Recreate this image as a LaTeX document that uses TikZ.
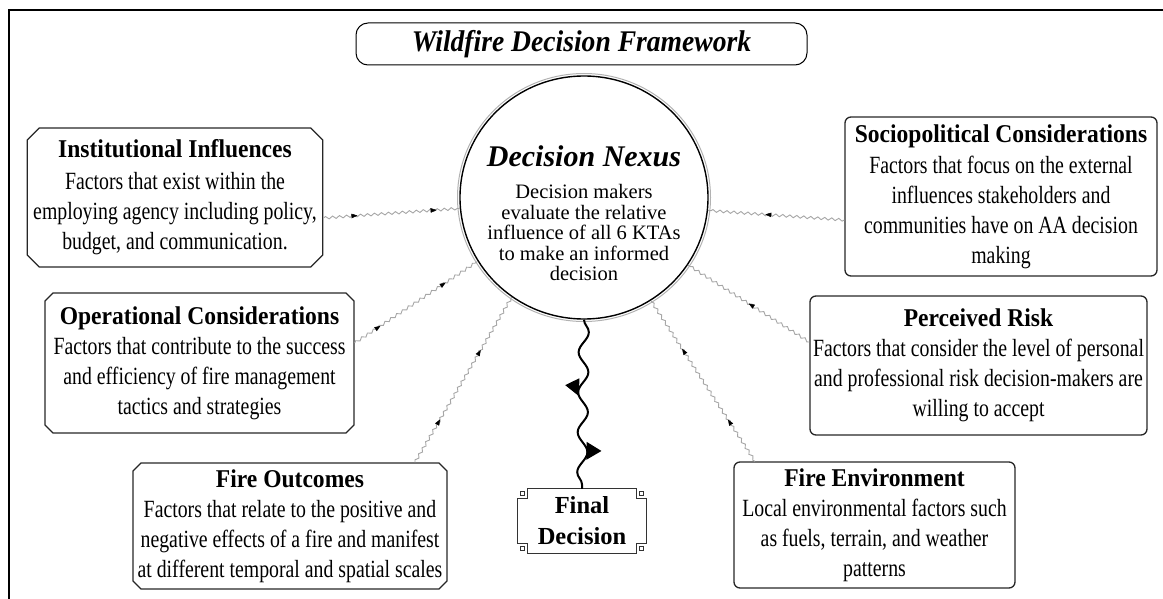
\documentclass[tikz,border=0pt]{standalone}
\usepackage{fontspec}
\setmainfont{Liberation Serif}
% narrow cuts of the serif face used for the box texts and headings
\newfontfamily\bodyfont[FakeStretch=0.8]{Liberation Serif}
\newfontfamily\headfont[FakeStretch=0.92]{Liberation Serif}
\usetikzlibrary{shapes.geometric,shapes.misc,decorations.pathmorphing,decorations.markings,arrows.meta,calc}

% heading line inside a KTA box
\newcommand\ktahead[1]{{\headfont\fontsize{25.6}{30}\selectfont\bfseries #1}}

\begin{document}
\begin{tikzpicture}[x=1pt,y=-1pt,
  kta/.style={draw=black!85, line width=1.3pt, align=center, inner sep=0pt,
    font=\bodyfont\fontsize{24.75}{30}\selectfont},
  ktachamf/.style={kta, chamfered rectangle, chamfered rectangle xsep=#1,
    chamfered rectangle ysep=#1},
  ktaround/.style={kta, rectangle, rounded corners=6pt},
  flow/.style={preaction={draw=gray!70, line width=0.9pt, decorate,
    decoration={snake, segment length=7pt, amplitude=1.3pt}}},
  tip/.style={postaction={decorate, decoration={markings,
    mark=at position #1 with {\arrow{Triangle[length=6pt,width=4.5pt]}}}}},
]
\useasboundingbox (0,0) rectangle (1163,599);
\clip (0,0) rectangle (1163,599);

% outer frame
\draw[line width=2.6pt] (9,620) -- (9,10) -- (1180,10);

% heading
\node[draw, rounded corners=12pt, line width=1pt, minimum width=451pt,
  minimum height=42pt, inner sep=0pt,
  font=\headfont\fontsize{30}{30}\selectfont\bfseries\itshape] (title) at (581.5,44)
  {Wildfire Decision Framework};

% central nexus
\node[ellipse, draw, line width=1.4pt, minimum width=248pt, minimum height=243pt,
  inner sep=0pt] (nexus) at (584,197.5) {};
\draw[gray!60, line width=1pt] (nexus.center) ellipse [x radius=126.5pt, y radius=124pt];
\node[align=center, inner sep=0pt, font=\fontsize{20.5}{20.5}\selectfont]
  (nexusbody) at (584,213)
  {{\fontsize{30}{30}\selectfont\bfseries\itshape Decision Nexus}\\[12pt]
   Decision makers\\ evaluate the relative\\ influence of all 6 KTAs\\
   to make an informed\\ decision};

% key theme areas
\node[ktachamf=6pt, minimum width=294pt, minimum height=139pt] (inst) at (175,197.5)
  {\ktahead{Institutional Influences}\\[2pt] Factors that exist within the\\
   employing agency including policy,\\ budget, and communication.};

\node[ktaround, minimum width=312pt, minimum height=159pt] (socio) at (1001,196.5)
  {\ktahead{Sociopolitical Considerations}\\[1pt] Factors that focus on the external\\
   influences stakeholders and\\ communities have on AA decision\\ making};

\node[ktachamf=4pt, minimum width=309pt, minimum height=140pt] (oper) at (199.5,363)
  {\ktahead{Operational Considerations}\\ Factors that contribute to the success\\
   and efficiency of fire management\\ tactics and strategies};

\node[ktachamf=4pt, minimum width=314pt, minimum height=126pt] (outc) at (290,526)
  {\ktahead{Fire Outcomes}\\ Factors that relate to the positive and\\
   negative effects of a fire and manifest\\ at different temporal and spatial scales};

\node[ktaround, minimum width=337pt, minimum height=139pt] (risk) at (978.5,365.5)
  {\ktahead{Perceived Risk}\\ Factors that consider the level of personal\\
   and professional risk decision-makers are\\ willing to accept};

\node[ktaround, minimum width=281pt, minimum height=126pt] (env) at (874.5,525)
  {\ktahead{Fire Environment}\\ Local environmental factors such\\
   as fuels, terrain, and weather\\ patterns};

% final decision plaque
\node[minimum width=128pt, minimum height=64pt, inner sep=0pt, align=center,
  font=\fontsize{24.5}{31}\selectfont\bfseries] (final) at (582,521)
  {Final\\ Decision};
\draw[line width=1.3pt, black!80]
  ($(final.north west)+(10,0)$) -- ($(final.north east)+(-10,0)$) -- ++(0,10) -- ++(10,0)
  -- ($(final.south east)+(0,-10)$) -- ++(-10,0) -- ++(0,10)
  -- ($(final.south west)+(10,0)$) -- ++(0,-10) -- ++(-10,0)
  -- ($(final.north west)+(0,10)$) -- ++(10,0) -- cycle;
\foreach \c/\dx/\dy in {north west/3/3, north east/-7/3, south west/3/-7, south east/-7/-7}
  \draw[line width=1pt, black!80] ($(final.\c)+(\dx,\dy)$) rectangle ++(4,4);

% influences flowing into the nexus
\path[flow, tip=0.25, tip=0.83] ([yshift=-20.5pt]inst.east) -- (nexus.185.8);
\path[flow, tip=0.58] ([yshift=-23.5pt]socio.west) -- (nexus.354.2);
\path[flow, tip=0.21, tip=0.74] ([yshift=20pt]oper.east) -- (nexus.211.5);
\path[flow, tip=0.26, tip=0.68] ([xshift=125pt]outc.north) -- (nexus.234.9);
\path[flow, tip=0.5] ([yshift=23.5pt]risk.west) -- (nexus.327.2);
\path[flow, tip=0.26, tip=0.7] ([xshift=-119.5pt]env.north) -- (nexus.303.4);

% nexus to final decision
\path[preaction={draw, line width=2pt, decorate,
    decoration={snake, segment length=40pt, amplitude=5pt}},
  postaction={decorate, decoration={markings,
    mark=at position 0.40 with {\fill (-9pt,-4pt) -- (9pt,-4pt) -- (-2pt,-18pt) -- cycle;},
    mark=at position 0.775 with {\fill (-9pt,4pt) -- (9pt,4pt) -- (0pt,19pt) -- cycle;}}}]
  (nexus.south) -- (final.north);
\end{tikzpicture}
\end{document}
